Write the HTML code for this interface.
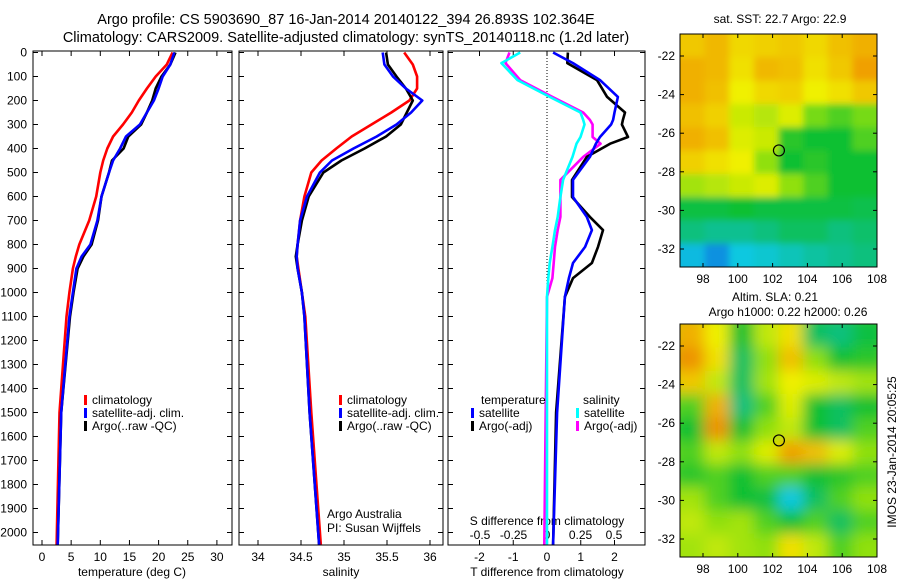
<!DOCTYPE html>
<html><head><meta charset="utf-8"><style>
html,body{margin:0;padding:0;background:#fff;}
svg{display:block;font-family:"Liberation Sans",sans-serif;}
text{fill:#000;}
</style></head><body>
<svg id="fig" width="900" height="580" viewBox="0 0 900 580">
<defs><filter id="blur1" x="0" y="0" width="1" height="1"><feGaussianBlur stdDeviation="3.5"/></filter>
<filter id="blur2" x="0" y="0" width="1" height="1"><feGaussianBlur stdDeviation="7"/></filter>
<clipPath id="c1"><rect x="680" y="34" width="197" height="233"/></clipPath>
<clipPath id="c2"><rect x="680" y="324" width="197" height="233"/></clipPath></defs>
<text x="346" y="24" font-size="14.5" text-anchor="middle">Argo profile: CS 5903690_87 16-Jan-2014 20140122_394 26.893S 102.364E</text>
<text x="346" y="42" font-size="14.5" text-anchor="middle">Climatology: CARS2009. Satellite-adjusted climatology: synTS_20140118.nc (1.2d later)</text>
<g id="g"></g>
</svg>
<script>
const depth=[0,50,100,150,200,250,300,350,400,450,500,600,700,800,850,900,1000,1100,1500,2050];
const tClim=[22.4,21.4,19.5,18.0,16.6,15.4,13.9,12.2,11.2,10.5,10.0,9.3,8.1,6.4,5.8,5.3,4.7,4.2,3.0,2.5];
const tSat=[22.7,22.0,20.7,20.0,19.2,18.0,16.8,14.4,13.4,12.2,11.5,10.2,9.5,8.3,6.8,5.9,5.3,4.7,3.3,2.7];
const tArgo=[22.9,22.0,20.5,19.5,18.9,18.0,17.0,14.8,14.0,12.0,11.5,10.2,9.6,8.5,7.1,6.1,5.4,4.8,3.3,2.7];
const sClim=[35.70,35.80,35.85,35.85,35.76,35.55,35.32,35.09,34.91,34.74,34.62,34.54,34.49,34.46,34.45,34.47,34.51,34.55,34.62,34.73];
const sSat=[35.45,35.47,35.57,35.72,35.91,35.78,35.61,35.38,35.11,34.86,34.72,34.57,34.49,34.46,34.45,34.46,34.51,34.54,34.60,34.71];
const sArgo=[35.49,35.51,35.61,35.72,35.80,35.73,35.66,35.49,35.24,34.97,34.76,34.59,34.51,34.46,34.44,34.46,34.51,34.54,34.60,34.71];
const dDepth=[0,44,115,185,250,281,300,352,380,435,531,602,685,740,810,877,940,1018,1500,2050];
const dTSat=[0.18,0.77,1.57,2.1,2.0,1.96,1.9,1.57,1.45,1.27,0.77,0.77,1.18,1.33,1.13,0.77,0.65,0.53,0.3,0.18];
const dTArgo=[0.62,0.6,1.48,1.78,2.31,2.25,2.22,2.4,1.87,1.18,0.74,0.74,1.27,1.66,1.51,1.33,0.77,0.53,0.27,0.18];
const dSSat=[-0.20,-0.34,-0.22,0.02,0.25,0.27,0.28,0.25,0.22,0.19,0.12,0.10,0.08,0.06,0.04,0.02,0.01,0.0,0.0,0.0];
const dSArgo=[-0.28,-0.31,-0.20,0.04,0.27,0.32,0.34,0.34,0.40,0.27,0.10,0.10,0.10,0.08,0.06,0.05,0.04,0.0,-0.01,-0.02];
const sstGrid=[[0.75,0.77,0.73,0.74,0.75,0.73,0.76,0.78],[0.78,0.77,0.72,0.77,0.76,0.72,0.75,0.8],[0.78,0.76,0.70,0.73,0.74,0.70,0.72,0.75],[0.76,0.74,0.66,0.64,0.68,0.58,0.55,0.58],[0.78,0.76,0.68,0.66,0.52,0.5,0.5,0.55],[0.74,0.72,0.7,0.6,0.5,0.52,0.5,0.5],[0.62,0.64,0.66,0.68,0.6,0.55,0.5,0.5],[0.48,0.48,0.5,0.48,0.48,0.48,0.48,0.47],[0.42,0.40,0.40,0.42,0.45,0.45,0.42,0.44],[0.28,0.22,0.3,0.32,0.35,0.38,0.40,0.42]];
const slaGrid=[[0.78,0.7,0.5,0.65,0.72,0.45,0.42,0.48],[0.82,0.72,0.45,0.6,0.76,0.6,0.5,0.52],[0.75,0.65,0.45,0.62,0.7,0.68,0.65,0.62],[0.55,0.78,0.42,0.55,0.68,0.5,0.45,0.5],[0.5,0.82,0.5,0.6,0.65,0.5,0.45,0.55],[0.55,0.65,0.6,0.68,0.8,0.76,0.68,0.6],[0.52,0.55,0.5,0.55,0.55,0.5,0.52,0.55],[0.62,0.55,0.5,0.48,0.3,0.45,0.55,0.6],[0.65,0.6,0.62,0.55,0.5,0.55,0.45,0.55],[0.62,0.65,0.62,0.6,0.72,0.65,0.55,0.6]];
const tTicks=[0,5,10,15,20,25,30];
const sTicks=[34,34.5,35,35.5,36];
const dtTicks=[-2,-1,0,1,2];
const dsTicks=[-0.5,-0.25,0,0.25,0.5];
const dsTickLabels=["-0.5","-0.25","0","0.25","0.5"];
const latTicks=[-22,-24,-26,-28,-30,-32];
const lonTicks=[98,100,102,104,106,108];

const NS='http://www.w3.org/2000/svg';
const G=document.getElementById('g');
function mk(tag,attrs,parent){const e=document.createElementNS(NS,tag);for(const k in attrs)e.setAttribute(k,attrs[k]);(parent||G).appendChild(e);return e;}
function txt(x,y,s,size,anchor,name){const t=mk('text',{x:x,y:y,'font-size':size,'text-anchor':anchor||'middle'});t.textContent=s;


return t;}
const Y=d=>52.5+d*0.24;
const PB=545;
const xT=v=>42+v*5.83, xS=v=>258+(v-34)*86, xDT=v=>547+v*33.75, xDS=v=>547+v*134;
function frame(x0,x1,name,labels){
 const r=mk('rect',{x:x0,y:51,width:x1-x0,height:PB-51,fill:'none',stroke:'#000','stroke-width':1});
 
 
 for(let d=0;d<=2000;d+=100){const y=Y(d);mk('line',{x1:x0,x2:x0+5,y1:y,y2:y,stroke:'#000'});mk('line',{x1:x1,x2:x1-5,y1:y,y2:y,stroke:'#000'});
  if(labels)txt(x0-6,y+4,String(d),12,'end','depth-tick-label');}
}
function line(xs,ys,fx,color,name,w){
 const p=xs.map((v,i)=>fx(v).toFixed(1)+','+Y(ys[i]).toFixed(1)).join(' ');
 const e=mk('polyline',{points:p,fill:'none',stroke:color,'stroke-width':w||2.6,'stroke-linejoin':'round'});
 
 
}
function xticks(ticks,fx,y,name){
 ticks.forEach(t=>{const x=fx(t);mk('line',{x1:x,x2:x,y1:51,y2:56,stroke:'#000'});mk('line',{x1:x,x2:x,y1:PB,y2:PB-5,stroke:'#000'});
  txt(x,y,String(t),12,'middle',name);});
}
frame(33,232,'temperature-panel',true);
xticks(tTicks,xT,561,'temperature-tick-label');
txt(132,576,'temperature (deg C)',12,'middle','temperature-axis-title');
line(tClim,depth,xT,'#ff0000','temperature-climatology-line');
line(tArgo,depth,xT,'#000000','temperature-argo-line');
line(tSat,depth,xT,'#0000ff','temperature-satellite-line');
frame(239,443,'salinity-panel',false);
xticks(sTicks,xS,561,'salinity-tick-label');
txt(341,576,'salinity',12,'middle','salinity-axis-title');
line(sClim,depth,xS,'#ff0000','salinity-climatology-line');
line(sArgo,depth,xS,'#000000','salinity-argo-line');
line(sSat,depth,xS,'#0000ff','salinity-satellite-line');
frame(448,645,'difference-panel',false);
xticks(dtTicks,xDT,561,'t-difference-tick-label');
dsTicks.forEach((t,i)=>txt(xDS(t),539,dsTickLabels[i],12,'middle','s-difference-tick-label'));
txt(547,525,'S difference from climatology',12,'middle','s-difference-axis-title');
txt(547,576,'T difference from climatology',12,'middle','t-difference-axis-title');
mk('line',{x1:547,x2:547,y1:52,y2:PB,stroke:'#000','stroke-dasharray':'1,2'});
line(dSArgo,dDepth,xDS,'#ff00ff','s-diff-argo-line');
line(dSSat,dDepth,xDS,'#00ffff','s-diff-satellite-line');
line(dTArgo,dDepth,xDT,'#000000','t-diff-argo-line');
line(dTSat,dDepth,xDT,'#0000ff','t-diff-satellite-line');
function leg(x,y,color,label,name){mk('rect',{x:x,y:y-9,width:3,height:10,fill:color});txt(x+8,y,label,12,'start',name);}
leg(84,404,'#ff0000','climatology','legend-climatology');leg(84,417,'#0000ff','satellite-adj. clim.','legend-satellite');leg(84,430,'#000000','Argo(..raw -QC)','legend-argo');
leg(339,404,'#ff0000','climatology','legend2-climatology');leg(339,417,'#0000ff','satellite-adj. clim.','legend2-satellite');leg(339,430,'#000000','Argo(..raw -QC)','legend2-argo');
txt(481,404,'temperature',12,'start','legend-temperature-heading');txt(583,404,'salinity',12,'start','legend-salinity-heading');
leg(471,417,'#0000ff','satellite','legend-t-satellite');leg(471,430,'#000000','Argo(-adj)','legend-t-argo');
leg(576,417,'#00ffff','satellite','legend-s-satellite');leg(576,430,'#ff00ff','Argo(-adj)','legend-s-argo');
txt(327,518,'Argo Australia',12,'start','credit-argo-australia');txt(327,532,'PI: Susan Wijffels',12,'start','credit-pi');
const stops=[[0.15,[16,96,224]],[0.3,[16,200,224]],[0.4,[16,192,144]],[0.5,[16,192,48]],[0.6,[144,224,16]],[0.7,[240,240,0]],[0.8,[240,160,0]],[0.9,[224,96,0]]];
function cmap(v){if(v<=stops[0][0])return 'rgb('+stops[0][1]+')';for(let i=1;i<stops.length;i++){if(v<=stops[i][0]){const a=stops[i-1],b=stops[i],f=(v-a[0])/(b[0]-a[0]);return 'rgb('+a[1].map((c,k)=>Math.round(c+(b[1][k]-c)*f)).join(',')+')';}}return 'rgb('+stops[stops.length-1][1]+')';}
function map(grid,top,clip,filt,name){
 const x0=680,w=197,h=233,lat0=-22,latY=top+22;const pxLat=19.3,pxLon=17.4;
 const lonX=l=>703+(l-98)*pxLon, latYf=l=>latY+(lat0-l)*pxLat;
 const g=mk('g',{'clip-path':'url(#'+clip+')'});
 
 
 mk('rect',{x:x0,y:top,width:w,height:h,fill:cmap(0.6)},g);
 const gb=mk('g',{filter:'url(#'+filt+')'},g);
 const rows=grid.length,cols=grid[0].length,cw=w/cols,ch=h/rows;
 grid.forEach((row,r)=>row.forEach((v,c)=>mk('rect',{x:x0+c*cw-(c==0?8:0),y:top+r*ch-(r==0?8:0),width:cw+1+(c==0||c==cols-1?8:0),height:ch+1+(r==0||r==rows-1?8:0),fill:cmap(v)},gb)));
 mk('rect',{x:x0,y:top,width:w,height:h,fill:'none',stroke:'#000'});
 latTicks.forEach(l=>{const y=latYf(l);mk('line',{x1:x0,x2:x0+4,y1:y,y2:y,stroke:'#000'});mk('line',{x1:x0+w,x2:x0+w-4,y1:y,y2:y,stroke:'#000'});txt(x0-5,y+4,String(l),12,'end','latitude-tick-label');});
 lonTicks.forEach(l=>{const x=lonX(l);mk('line',{x1:x,x2:x,y1:top+h,y2:top+h-4,stroke:'#000'});mk('line',{x1:x,x2:x,y1:top,y2:top+4,stroke:'#000'});txt(x,top+h+16,String(l),12,'middle','longitude-tick-label');});
 const c=mk('circle',{cx:lonX(102.364),cy:latYf(-26.893),r:5.5,fill:'none',stroke:'#000','stroke-width':1.2});
 
 
}
txt(780,23,'sat. SST: 22.7  Argo: 22.9',12,'middle','sst-map-title');
map(sstGrid,34,'c1','blur1','sst-map');
txt(775,301,'Altim. SLA: 0.21',12,'middle','sla-map-title');
txt(788,316,'Argo h1000: 0.22 h2000: 0.26',12,'middle','sla-map-subtitle');
map(slaGrid,324,'c2','blur2','sla-map');
const v=txt(0,0,'IMOS 23-Jan-2014 20:05:25',12,'middle','imos-timestamp');
v.setAttribute('transform','translate(896,452) rotate(-90)');
</script>
</body></html>
